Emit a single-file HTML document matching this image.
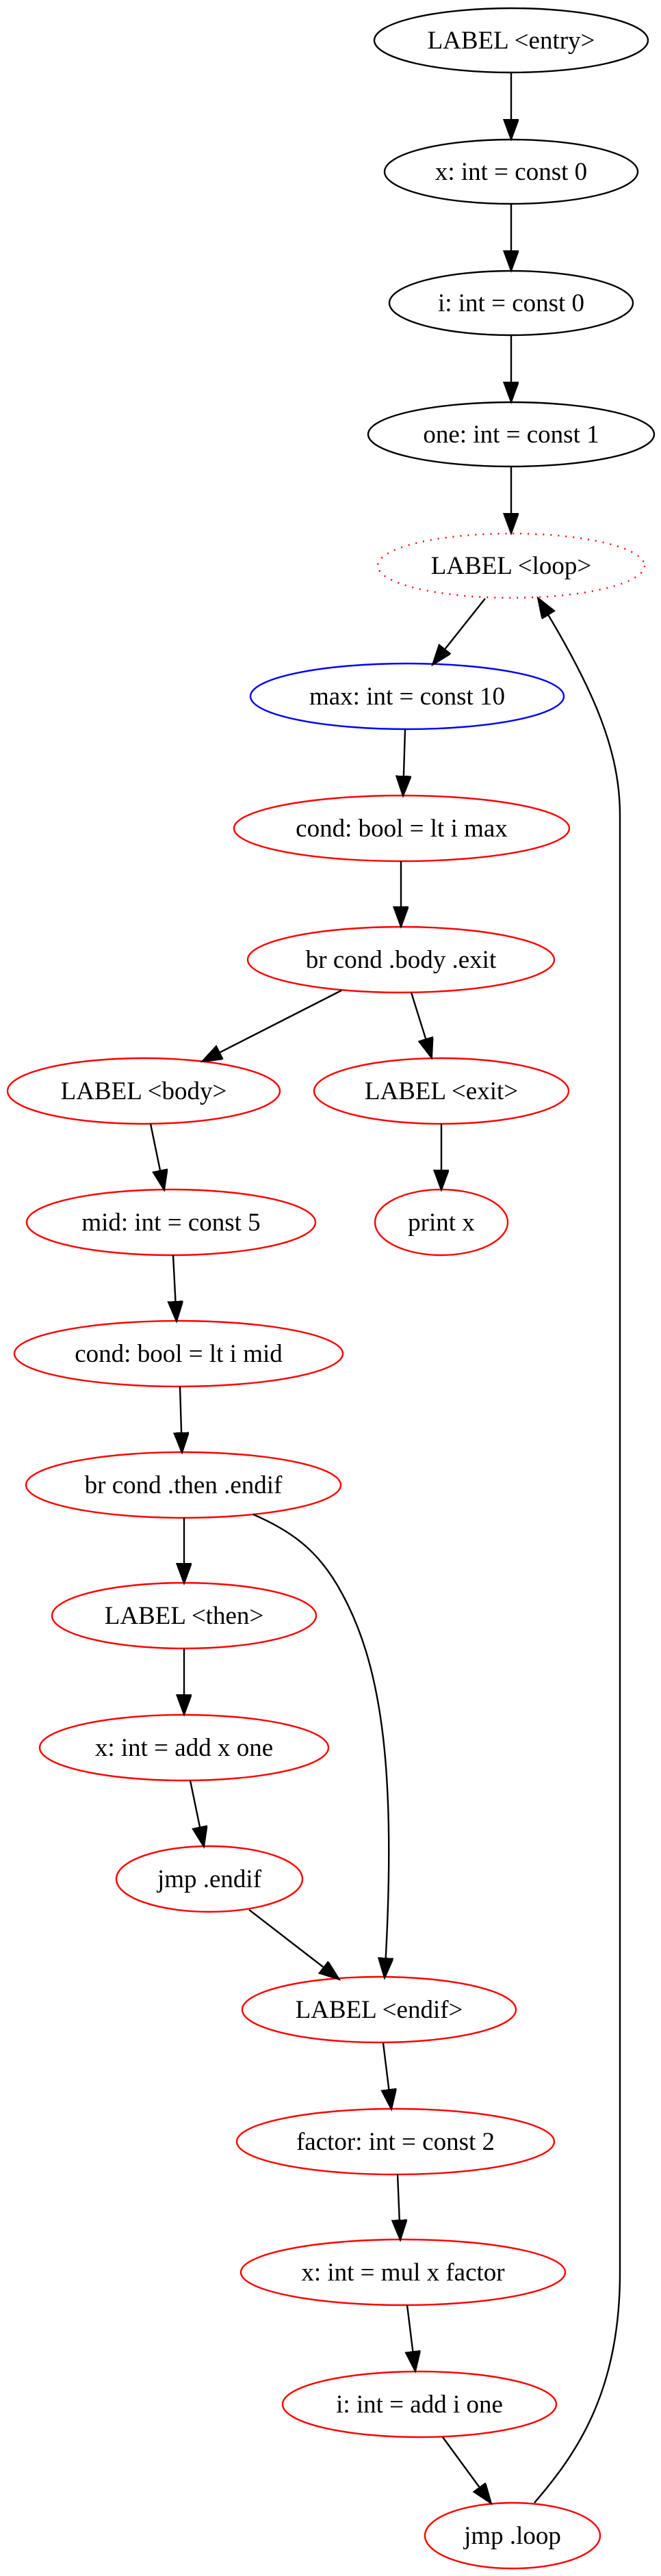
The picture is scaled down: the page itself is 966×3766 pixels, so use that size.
<!DOCTYPE html>
<html><head><meta charset="utf-8"><style>
html,body{margin:0;padding:0;background:#fff;}
svg{display:block;}
text{font-family:"Liberation Serif",serif;font-size:37px;text-anchor:middle;}
</style></head><body>
<svg width="966" height="3766" viewBox="0 0 966 3766" xmlns="http://www.w3.org/2000/svg">
<defs>
<marker id="a" markerUnits="userSpaceOnUse" markerWidth="34" markerHeight="26" refX="30" refY="11" orient="auto">
<polygon points="0,0 30,11 0,22" fill="#000" stroke="#000" stroke-width="2"/>
</marker>
</defs>
<g fill="none" stroke-width="2.4">
<ellipse cx="747" cy="59" rx="200" ry="47" stroke="#000"/>
<ellipse cx="747" cy="251" rx="185" ry="47" stroke="#000"/>
<ellipse cx="747" cy="443" rx="178" ry="47" stroke="#000"/>
<ellipse cx="747" cy="635" rx="209" ry="47" stroke="#000"/>
<ellipse cx="747" cy="827" rx="195" ry="47" stroke="#f00" stroke-dasharray="2 9"/>
<ellipse cx="595" cy="1018" rx="229" ry="48" stroke="#00f"/>
<ellipse cx="587" cy="1211" rx="245" ry="48" stroke="#f00"/>
<ellipse cx="586" cy="1403" rx="224" ry="48" stroke="#f00"/>
<ellipse cx="210" cy="1595" rx="199" ry="48" stroke="#f00"/>
<ellipse cx="645" cy="1595" rx="186" ry="48" stroke="#f00"/>
<ellipse cx="250" cy="1787" rx="211" ry="48" stroke="#f00"/>
<ellipse cx="645" cy="1787" rx="97" ry="48" stroke="#f00"/>
<ellipse cx="261" cy="1979" rx="240" ry="48" stroke="#f00"/>
<ellipse cx="268" cy="2171" rx="230" ry="48" stroke="#f00"/>
<ellipse cx="269" cy="2362" rx="193" ry="48" stroke="#f00"/>
<ellipse cx="269" cy="2555" rx="211" ry="48" stroke="#f00"/>
<ellipse cx="306" cy="2747" rx="136" ry="48" stroke="#f00"/>
<ellipse cx="554" cy="2938" rx="200" ry="48" stroke="#f00"/>
<ellipse cx="578" cy="3131" rx="232" ry="48" stroke="#f00"/>
<ellipse cx="589" cy="3322" rx="237" ry="48" stroke="#f00"/>
<ellipse cx="613" cy="3515" rx="200" ry="48" stroke="#f00"/>
<ellipse cx="749" cy="3707" rx="128" ry="48" stroke="#f00"/>
</g>
<g fill="none" stroke="#000" stroke-width="2.4" marker-end="url(#a)">
<path d="M747 106 L747 204"/>
<path d="M747 298 L747 396"/>
<path d="M747 490 L747 588"/>
<path d="M747 682 L747 780"/>
<path d="M709 875 L632 972"/>
<path d="M781 3659 C840 3590 906 3500 906 3323 L906 1192 C906 1100 870 1010 786 874"/>
<path d="M592 1067 L589 1164"/>
<path d="M586 1259 L586 1355"/>
<path d="M499 1448 L295 1552"/>
<path d="M601 1451 L631 1547"/>
<path d="M220 1643 L240 1740"/>
<path d="M645 1643 L645 1740"/>
<path d="M253 1835 L258 1932"/>
<path d="M263 2027 L266 2124"/>
<path d="M269 2219 L269 2315"/>
<path d="M370 2214 C430 2240 468 2270 500 2330 C560 2440 580 2600 562 2892"/>
<path d="M269 2410 L269 2507"/>
<path d="M278 2603 L298 2700"/>
<path d="M364 2792 L496 2894"/>
<path d="M560 2987 L572 3084"/>
<path d="M581 3178 L585 3275"/>
<path d="M595 3370 L607 3467"/>
<path d="M647 3563 L718 3660"/>
</g>
<g fill="#000">
<text x="747" y="71">LABEL &lt;entry&gt;</text>
<text x="747" y="263">x: int = const 0</text>
<text x="747" y="455">i: int = const 0</text>
<text x="747" y="647">one: int = const 1</text>
<text x="747" y="839">LABEL &lt;loop&gt;</text>
<text x="595" y="1030">max: int = const 10</text>
<text x="587" y="1223">cond: bool = lt i max</text>
<text x="586" y="1415">br cond .body .exit</text>
<text x="210" y="1607">LABEL &lt;body&gt;</text>
<text x="645" y="1607">LABEL &lt;exit&gt;</text>
<text x="250" y="1799">mid: int = const 5</text>
<text x="645" y="1799">print x</text>
<text x="261" y="1991">cond: bool = lt i mid</text>
<text x="268" y="2183">br cond .then .endif</text>
<text x="269" y="2374">LABEL &lt;then&gt;</text>
<text x="269" y="2567">x: int = add x one</text>
<text x="306" y="2759">jmp .endif</text>
<text x="554" y="2950">LABEL &lt;endif&gt;</text>
<text x="578" y="3143">factor: int = const 2</text>
<text x="589" y="3334">x: int = mul x factor</text>
<text x="613" y="3527">i: int = add i one</text>
<text x="749" y="3719">jmp .loop</text>
</g>
</svg>
</body></html>
